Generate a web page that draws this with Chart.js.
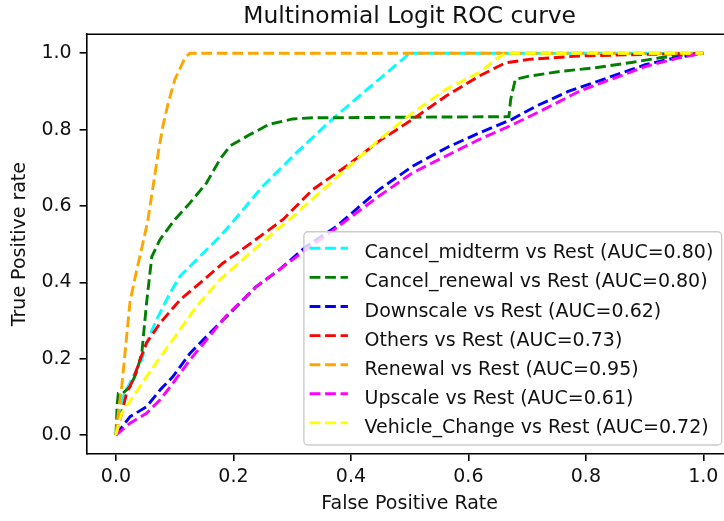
<!DOCTYPE html>
<html>
<head>
<meta charset="utf-8">
<script src="https://cdn.jsdelivr.net/npm/chart.js@4.4.0/dist/chart.umd.min.js"></script>
<style>
  html, body { margin: 0; padding: 0; background: #fff; overflow: hidden; }
  /* the original figure is cut off a few pixels past the right edge */
  #wrap { width: 724px; height: 521px; overflow: hidden; }
</style>
</head>
<body>
<div id="wrap"><canvas id="roc" width="733" height="521"></canvas></div>
<script>
// ROC points (fpr = x, tpr = y)
const cancelMidtermFpr = [0, 0.012, 0.029, 0.044, 0.052, 0.069, 0.092, 0.109, 0.143, 0.177, 0.202, 0.25, 0.307, 0.368, 0.448, 0.5, 1.0];
const cancelMidtermTpr = [0, 0.10, 0.153, 0.197, 0.241, 0.302, 0.372, 0.416, 0.468, 0.52, 0.564, 0.652, 0.739, 0.827, 0.932, 1.0, 1.0];

const cancelRenewalFpr = [0, 0.002, 0.004, 0.012, 0.024, 0.034, 0.044, 0.052, 0.061, 0.075, 0.1, 0.126, 0.154, 0.177, 0.194, 0.228, 0.261, 0.301, 0.335, 0.669, 0.672, 0.68, 0.703, 0.759, 0.816, 0.878, 0.929, 1.0];
const cancelRenewalTpr = [0, 0.08, 0.109, 0.11, 0.127, 0.16, 0.214, 0.345, 0.467, 0.512, 0.564, 0.608, 0.66, 0.722, 0.757, 0.787, 0.814, 0.828, 0.831, 0.834, 0.879, 0.932, 0.94, 0.953, 0.962, 0.976, 0.989, 1.0];

const downscaleFpr = [0, 0.024, 0.052, 0.075, 0.097, 0.126, 0.154, 0.194, 0.239, 0.278, 0.324, 0.375, 0.448, 0.505, 0.562, 0.618, 0.674, 0.716, 0.77, 0.845, 0.901, 0.958, 1.0];
const downscaleTpr = [0, 0.048, 0.074, 0.118, 0.153, 0.214, 0.258, 0.319, 0.389, 0.433, 0.494, 0.546, 0.643, 0.704, 0.752, 0.791, 0.827, 0.862, 0.9, 0.94, 0.97, 0.99, 1.0];

const othersFpr = [0, 0.007, 0.018, 0.029, 0.041, 0.052, 0.075, 0.109, 0.143, 0.182, 0.222, 0.261, 0.284, 0.335, 0.392, 0.448, 0.505, 0.562, 0.618, 0.663, 0.703, 0.788, 0.901, 1.0];
const othersTpr = [0, 0.04, 0.109, 0.144, 0.197, 0.241, 0.293, 0.354, 0.398, 0.45, 0.494, 0.538, 0.564, 0.643, 0.704, 0.77, 0.827, 0.888, 0.94, 0.975, 0.984, 0.993, 0.997, 1.0];

const renewalFpr = [0, 0.005, 0.01, 0.017, 0.024, 0.035, 0.044, 0.054, 0.063, 0.072, 0.08, 0.089, 0.1, 0.109, 0.118, 0.126, 1.0];
const renewalTpr = [0, 0.07, 0.13, 0.24, 0.35, 0.43, 0.49, 0.56, 0.65, 0.74, 0.81, 0.87, 0.93, 0.96, 0.99, 1.0, 1.0];

const upscaleFpr = [0, 0.024, 0.052, 0.075, 0.097, 0.126, 0.154, 0.187, 0.239, 0.278, 0.324, 0.363, 0.448, 0.505, 0.562, 0.618, 0.674, 0.731, 0.788, 0.845, 0.901, 0.958, 1.0];
const upscaleTpr = [0, 0.031, 0.057, 0.092, 0.136, 0.197, 0.249, 0.311, 0.389, 0.433, 0.486, 0.529, 0.626, 0.687, 0.731, 0.774, 0.812, 0.855, 0.9, 0.933, 0.965, 0.988, 1.0];

const vehicleChangeFpr = [0, 0.0096, 0.029, 0.052, 0.08, 0.109, 0.137, 0.177, 0.222, 0.267, 0.295, 0.448, 0.505, 0.562, 0.618, 0.646, 0.663, 1.0];
const vehicleChangeTpr = [0, 0.057, 0.1, 0.153, 0.214, 0.276, 0.337, 0.407, 0.468, 0.529, 0.564, 0.774, 0.844, 0.906, 0.949, 0.984, 1.0, 1.0];

const classNames = ['Cancel_midterm', 'Cancel_renewal', 'Downscale', 'Others', 'Renewal', 'Upscale', 'Vehicle_Change'];
const classAuc = ['0.80', '0.80', '0.62', '0.73', '0.95', '0.61', '0.72'];
const fprList = [cancelMidtermFpr, cancelRenewalFpr, downscaleFpr, othersFpr, renewalFpr, upscaleFpr, vehicleChangeFpr];
const tprList = [cancelMidtermTpr, cancelRenewalTpr, downscaleTpr, othersTpr, renewalTpr, upscaleTpr, vehicleChangeTpr];

const tickValues = [0, 0.2, 0.4, 0.6, 0.8, 1.0];
const tickLabels = ['0.0', '0.2', '0.4', '0.6', '0.8', '1.0'];

const lineColors = ['#00ffff', '#008000', '#0000ff', '#ff0000', '#ffa500', '#ff00ff', '#ffff00'];
const FONT = '"DejaVu Sans", "Liberation Sans", sans-serif';
const TEXT = '#111';
const DASH = [10.8, 4.7];
const LW = 2.9;

const datasets = classNames.map((name, i) => ({
  label: `${name} vs Rest (AUC=${classAuc[i]})`,
  data: fprList[i].map((x, j) => ({ x, y: tprList[i][j] })),
  borderColor: lineColors[i],
  backgroundColor: lineColors[i],
  borderWidth: LW,
  borderDash: DASH,
  pointRadius: 0,
  tension: 0,
  fill: false,
  order: classNames.length - 1 - i, // later series on top, like matplotlib
}));

const frameAndText = {
  id: 'frameAndText',
  afterDatasetsDraw(chart) {
    const { ctx, chartArea } = chart;
    // legend box, bottom right inside the axes
    ctx.save();
    ctx.font = `19px ${FONT}`;
    const texts = chart.data.datasets.map(d => d.label);
    const maxW = Math.max(...texts.map(t => ctx.measureText(t).width));
    const boxW = 60.7 + maxW + 8.4;
    const boxH = 213.3;
    const right = chartArea.right - 11;
    const bottom = chartArea.bottom - 9.1;
    const left = right - boxW;
    const top = bottom - boxH;
    ctx.beginPath();
    ctx.roundRect(left, top, boxW, boxH, 4);
    ctx.fillStyle = 'rgba(255,255,255,0.8)';
    ctx.fill();
    ctx.lineWidth = 1.4;
    ctx.strokeStyle = '#cccccc';
    ctx.stroke();
    texts.forEach((t, i) => {
      const hy = top + 16.6 + i * 29.1;
      ctx.beginPath();
      ctx.setLineDash(DASH);
      ctx.lineWidth = LW;
      ctx.strokeStyle = lineColors[i];
      ctx.moveTo(left + 5.7, hy);
      ctx.lineTo(left + 44, hy);
      ctx.stroke();
      ctx.setLineDash([]);
      ctx.fillStyle = TEXT;
      ctx.textAlign = 'left';
      ctx.textBaseline = 'alphabetic';
      ctx.fillText(t, left + 60.7, top + 26.6 + i * 29.1);
    });
    ctx.restore();
  },
  afterDraw(chart) {
    const { ctx, chartArea } = chart;
    ctx.save();
    // top spine
    ctx.beginPath();
    ctx.strokeStyle = '#000';
    ctx.lineWidth = 1.6;
    ctx.moveTo(chartArea.left - 0.8, chartArea.top);
    ctx.lineTo(chartArea.right, chartArea.top);
    ctx.stroke();
    // title
    ctx.fillStyle = TEXT;
    ctx.font = `23.4px ${FONT}`;
    ctx.textAlign = 'center';
    ctx.textBaseline = 'alphabetic';
    ctx.fillText('Multinomial Logit ROC curve', (chartArea.left + chartArea.right) / 2, 23.3);
    ctx.restore();
  },
};

const axisFont = { family: FONT, size: 19 };

new Chart(document.getElementById('roc').getContext('2d'), {
  type: 'line',
  data: { datasets },
  options: {
    responsive: false,
    animation: false,
    devicePixelRatio: 1,
    events: [],
    layout: { padding: { top: 34.2, right: 0.3, bottom: 0, left: 0 } },
    plugins: {
      legend: { display: false },
      title: { display: false },
      tooltip: { enabled: false },
    },
    scales: {
      x: {
        type: 'linear',
        min: -0.05,
        max: 1.05,
        afterBuildTicks: s => { s.ticks = tickValues.map(v => ({ value: v })); },
        afterFit: s => { s.height = 66.9; },
        ticks: {
          callback: (v, i) => tickLabels[i],
          color: TEXT,
          font: axisFont,
          padding: 4.5,
          maxRotation: 0,
          autoSkip: false,
        },
        grid: { drawOnChartArea: false, drawTicks: true, tickLength: 7, color: '#000', lineWidth: 1.6 },
        border: { display: true, color: '#000', width: 1.6 },
        title: { display: true, text: 'False Positive Rate', color: TEXT, font: axisFont, padding: { top: 0, bottom: 5.4 } },
      },
      y: {
        type: 'linear',
        min: -0.05,
        max: 1.05,
        afterBuildTicks: s => { s.ticks = tickValues.map(v => ({ value: v })); },
        afterFit: s => { s.width = 86.6; },
        ticks: {
          callback: (v, i) => tickLabels[i],
          color: TEXT,
          font: axisFont,
          padding: 8,
          autoSkip: false,
        },
        grid: { drawOnChartArea: false, drawTicks: true, tickLength: 7, color: '#000', lineWidth: 1.6 },
        border: { display: true, color: '#000', width: 1.6 },
        title: { display: true, text: 'True Positive rate', color: TEXT, font: axisFont, padding: { top: 8.6, bottom: 0 } },
      },
    },
  },
  plugins: [frameAndText],
});
</script>
</body>
</html>
